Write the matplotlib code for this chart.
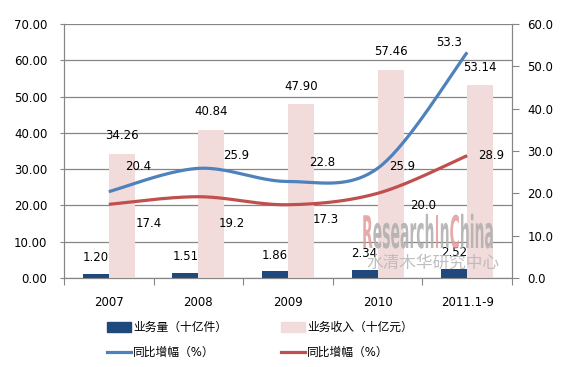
import numpy as np
import matplotlib
matplotlib.use("Agg")
import matplotlib.pyplot as plt
from matplotlib.patches import Patch, PathPatch
from matplotlib.lines import Line2D
from matplotlib.textpath import TextPath
from matplotlib.font_manager import FontProperties
from matplotlib.transforms import Affine2D

plt.rcParams['font.family'] = ['DejaVu Sans', 'Noto Sans CJK SC']
plt.rcParams['font.size'] = 8.5

# data
years = ['2007', '2008', '2009', '2010', '2011.1-9']
volume = [1.20, 1.51, 1.86, 2.34, 2.52]          # 业务量 (十亿件)
revenue = [34.26, 40.84, 47.90, 57.46, 53.14]    # 业务收入 (十亿元)
volume_growth = [20.4, 25.9, 22.8, 25.9, 53.3]   # 同比增幅 (%)
revenue_growth = [17.4, 19.2, 17.3, 20.0, 28.9]  # 同比增幅 (%)

# label offsets in pixels (dx, dy)
blue_off = [(29, 25), (38, 13), (34, 19), (25, 2), (-18, 10)]
red_off = [(40, -19), (33, -27), (38, -15), (46, -12), (24, 0)]

c_dark = '#1F497D'
c_pink = '#F2DCDB'
c_blue = '#4F81BD'
c_red = '#C0504D'
c_grid = '#868686'


def smooth(xs, ys, n=40):
    # Catmull-Rom style bezier like the Excel smoothed line
    p = np.column_stack([xs, ys]).astype(float)
    p = np.vstack([p[0], p, p[-1]])
    out = []
    for i in range(1, len(p) - 2):
        p0, p3 = p[i], p[i + 1]
        c1 = p0 + (p[i + 1] - p[i - 1]) / 6
        c2 = p3 - (p[i + 2] - p[i]) / 6
        t = np.linspace(0, 1, n)[:, None]
        seg = ((1 - t) ** 3) * p0 + 3 * ((1 - t) ** 2) * t * c1 + 3 * (1 - t) * t ** 2 * c2 + t ** 3 * p3
        out.append(seg if i == 1 else seg[1:])
    out = np.vstack(out)
    return out[:, 0], out[:, 1]


fig = plt.figure(figsize=(5.64, 3.67), dpi=100)
ax = fig.add_axes([64 / 564, 1 - 278 / 367, 448 / 564, 254 / 367])
ax2 = ax.twinx()

x = np.arange(len(years))
w = 0.29
ax.bar(x - w / 2, volume, w, color=c_dark, zorder=3)
ax.bar(x + w / 2, revenue, w, color=c_pink, zorder=3)

ax.set_ylim(0, 70)
ax.set_yticks(np.arange(0, 71, 10))
ax.set_yticklabels([f'{v:.2f}' for v in np.arange(0, 71, 10)])
ax.set_xlim(-0.5, len(years) - 0.5)
ax.set_xticks(np.arange(-0.5, len(years), 1))
ax.set_xticklabels([])
ax.set_xticks(x, minor=True)
ax.set_xticklabels(years, minor=True)
ax.tick_params(axis='x', which='major', length=5, color=c_grid)
ax.tick_params(axis='x', which='minor', length=0, pad=13)
ax.tick_params(axis='y', length=3, color=c_grid, pad=9)
ax.grid(axis='y', color=c_grid, linewidth=0.9, zorder=0)
ax.set_axisbelow(True)

ax.spines['top'].set_visible(False)
ax2.spines['top'].set_visible(False)
for s in ['left', 'bottom', 'right']:
    ax.spines[s].set_color(c_grid)
    ax2.spines[s].set_color(c_grid)

for xi, v in zip(x, volume):
    ax.annotate(f'{v:.2f}', (xi - w / 2, v), xytext=(0, 16), textcoords='offset pixels',
                ha='center', va='center', zorder=5)
for xi, v in zip(x, revenue):
    ax.annotate(f'{v:.2f}', (xi + w / 2, v), xytext=(0, 18), textcoords='offset pixels',
                ha='center', va='center', zorder=5)

ax2.set_ylim(0, 60)
ax2.set_yticks(np.arange(0, 61, 10))
ax2.set_yticklabels([f'{v:.1f}' for v in np.arange(0, 61, 10)])
ax2.tick_params(axis='y', length=5, color=c_grid, pad=6)

bx, by = smooth(x, volume_growth)
rx, ry = smooth(x, revenue_growth)
ax2.plot(bx, by, color=c_blue, linewidth=2.3, zorder=4, solid_capstyle='butt')
ax2.plot(rx, ry, color=c_red, linewidth=2.3, zorder=4, solid_capstyle='butt')

for xi, v, o in zip(x, volume_growth, blue_off):
    ax2.annotate(f'{v:.1f}', (xi, v), xytext=o, textcoords='offset pixels',
                 ha='center', va='center', zorder=6)
for xi, v, o in zip(x, revenue_growth, red_off):
    ax2.annotate(f'{v:.1f}', (xi, v), xytext=o, textcoords='offset pixels',
                 ha='center', va='center', zorder=6)

# legend
handles = [Patch(color=c_dark), Line2D([], [], color=c_blue, linewidth=2.3),
           Patch(color=c_pink), Line2D([], [], color=c_red, linewidth=2.3)]
labels = ['业务量（十亿件）', '同比增幅（%）', '业务收入（十亿元）', '同比增幅（%）']
fig.legend(handles, labels, ncol=2, frameon=False, loc='center',
           bbox_to_anchor=(260 / 564, 1 - 340 / 367), handlelength=2.0, handleheight=0.8,
           handletextpad=0.2, columnspacing=4.6, labelspacing=1.0, fontsize=8.5)

# watermark
fp = FontProperties(family='DejaVu Sans', weight='bold')
parts = [('R', '#E49A9A'), ('esearch', '#ADADAD'), ('I', '#E49A9A'), ('n', '#ADADAD'),
         ('C', '#E49A9A'), ('hina', '#ADADAD')]
size = 45
sx = 0.31
cursor = 362
bar_w = TextPath((0, 0), '|', size=size, prop=fp).get_extents().x1
for txt, col in parts:
    tp = TextPath((0, 0), txt, size=size, prop=fp)
    tr = Affine2D().scale(sx, 1.0).translate(cursor, 367 - 248)
    fig.patches.append(PathPatch(tp, transform=tr, facecolor=col, edgecolor='none',
                                 alpha=0.85, zorder=10))
    ext = TextPath((0, 0), txt + '|', size=size, prop=fp).get_extents().x1 - bar_w
    cursor += ext * sx
fig.text(433 / 564, 1 - 263 / 367, '水清木华研究中心', family='Noto Sans CJK SC', fontsize=12,
         color='#B8B8B8', alpha=0.9, ha='center', va='center', zorder=10)

fig.savefig('out.png', dpi=100)
